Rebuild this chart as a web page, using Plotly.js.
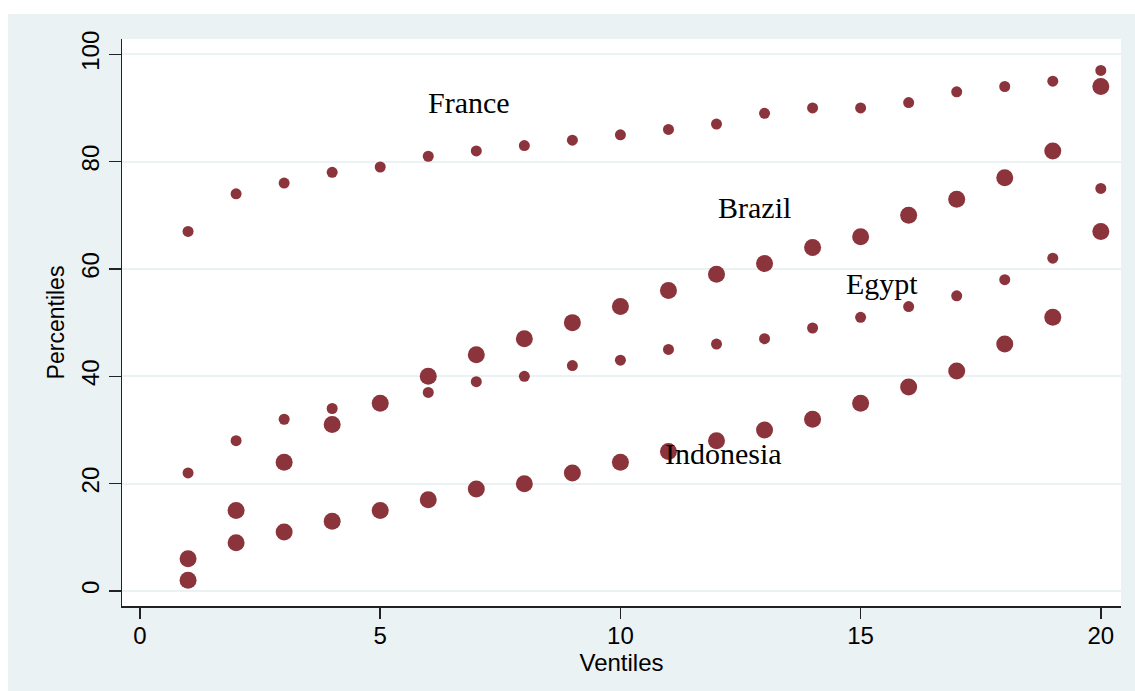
<!DOCTYPE html>
<html>
<head>
<meta charset="utf-8">
<script src="https://cdn.plot.ly/plotly-3.0.1.min.js"></script>
<style>
  html, body { margin: 0; padding: 0; background: #ffffff; }
  #chart { position: absolute; left: 8px; top: 14px; width: 1127px; height: 677px; }
</style>
</head>
<body>
<div id="chart"></div>
<script>
const ventiles = [1,2,3,4,5,6,7,8,9,10,11,12,13,14,15,16,17,18,19,20];
const france    = [67,74,76,78,79,81,82,83,84,85,86,87,89,90,90,91,93,94,95,97];
const brazil    = [6,15,24,31,35,40,44,47,50,53,56,59,61,64,66,70,73,77,82,94];
const egypt     = [22,28,32,34,35,37,39,40,42,43,45,46,47,49,51,53,55,58,62,75];
const indonesia = [2,9,11,13,15,17,19,20,22,24,26,28,30,32,35,38,41,46,51,67];

const labelNames = ["France", "Brazil", "Egypt", "Indonesia"];
const labelX = [5.95, 11.98, 14.65, 10.88];
const labelY = [91, 71.5, 57.2, 25.7];
const yTicks = [0, 20, 40, 60, 80, 100];
const xTicks = [0, 5, 10, 15, 20];

const color = "#8C343C";
const smallSize = 11, bigSize = 17;

function series(name, ys, size) {
  return {
    type: "scatter", mode: "markers", name: name,
    x: ventiles, y: ys,
    marker: { color: color, size: size, line: { width: 0 } },
    hoverinfo: "x+y"
  };
}

const data = [
  series("France", france, smallSize),
  series("Brazil", brazil, bigSize),
  series("Egypt", egypt, smallSize),
  series("Indonesia", indonesia, bigSize)
];

const annotations = labelNames.map((t, i) => ({
  text: t, x: labelX[i], y: labelY[i], xref: "x", yref: "y",
  xanchor: "left", yanchor: "middle", showarrow: false,
  font: { family: "Liberation Serif, Times New Roman, serif", size: 30, color: "#000000" }
}));

const tickFont = { family: "Liberation Sans, Arial, sans-serif", size: 24, color: "#000000" };

const layout = {
  width: 1127, height: 677,
  paper_bgcolor: "#EAF2F3",
  plot_bgcolor: "#FFFFFF",
  showlegend: false,
  margin: { l: 114, r: 14, t: 25, b: 85, pad: 0 },
  xaxis: {
    range: [-0.375, 20.42],
    tickvals: xTicks, ticktext: xTicks.map(String),
    showgrid: false, zeroline: false,
    showline: true, linecolor: "#222222", linewidth: 1.5,
    ticks: "outside", ticklen: 11, tickwidth: 1.5, tickcolor: "#222222",
    ticklabelstandoff: -3,
    tickfont: tickFont,
    title: { text: "Ventiles", font: { family: "Liberation Sans, Arial, sans-serif", size: 24, color: "#000000" }, standoff: 0 }
  },
  yaxis: {
    range: [-2.8, 102.85],
    tickvals: yTicks, ticktext: yTicks.map(String),
    tickangle: -90,
    showgrid: true, gridcolor: "#EAF2F3", gridwidth: 2,
    zeroline: false,
    showline: true, linecolor: "#222222", linewidth: 1.5,
    ticks: "outside", ticklen: 12, tickwidth: 1.5, tickcolor: "#222222",
    tickfont: tickFont,
    title: { text: "Percentiles", font: { family: "Liberation Sans, Arial, sans-serif", size: 23, color: "#000000" }, standoff: 6 }
  },
  annotations: annotations
};

Plotly.newPlot("chart", data, layout, { displayModeBar: false, staticPlot: true });
</script>
</body>
</html>
